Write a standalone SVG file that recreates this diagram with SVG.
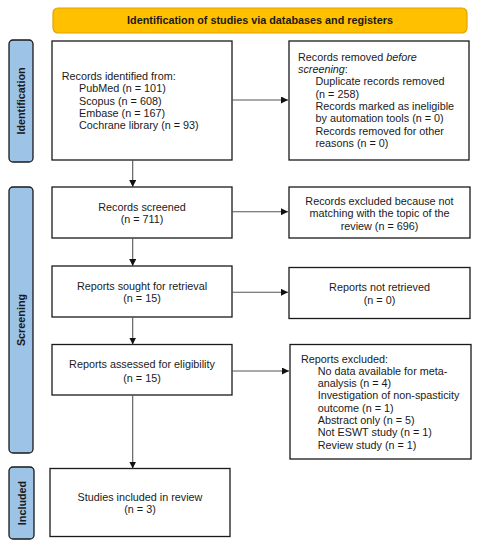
<svg xmlns="http://www.w3.org/2000/svg" width="484" height="550" viewBox="0 0 484 550">
<defs>
<style>
.t{font-family:"Liberation Sans",Arial,sans-serif;font-size:10.8px;fill:#1a1a1a}
.c{text-anchor:middle}
.b{font-weight:bold}
.box{fill:#fff;stroke:#1a1a1a;stroke-width:1.3}
.side{fill:#9DC3E6;stroke:#1a1a1a;stroke-width:1.3}
.ban{fill:#FFC000;stroke:#E0A400;stroke-width:1.2}
.ln{stroke:#555;stroke-width:1.1;fill:none;marker-end:url(#ah)}
</style>
<marker id="ah" viewBox="0 0 10 10" refX="10" refY="5" markerWidth="7" markerHeight="7" markerUnits="userSpaceOnUse" orient="auto">
<path d="M0,0 L10,5 L0,10 z" fill="#111"/>
</marker>
</defs>
<rect width="484" height="550" fill="#fff"/>
<g id="banner">
<rect class="ban" x="53" y="8" width="414" height="25" rx="5"/>
<text class="t c b" x="260" y="24.3">Identification of studies via databases and registers</text>
</g>
<g id="side-identification">
<rect class="side" x="9" y="40" width="24" height="122" rx="4"/>
<text class="t c b" transform="translate(25,101) rotate(-90)">Identification</text>
</g>
<g id="side-screening">
<rect class="side" x="9" y="187" width="24" height="266" rx="4"/>
<text class="t c b" transform="translate(25,320) rotate(-90)">Screening</text>
</g>
<g id="side-included">
<rect class="side" x="9" y="467" width="25" height="72" rx="4"/>
<text class="t c b" transform="translate(25.5,503) rotate(-90)">Included</text>
</g>
<g id="identified">
<rect class="box" x="52" y="41" width="180" height="119"/>
<text class="t" x="61.7" y="79.8">Records identified from:</text>
<text class="t" x="79" y="92.1">PubMed (n = 101)</text>
<text class="t" x="79" y="104.5">Scopus (n = 608)</text>
<text class="t" x="79" y="116.8">Embase (n = 167)</text>
<text class="t" x="79" y="129.1">Cochrane library (n = 93)</text>
</g>
<g id="removed">
<rect class="box" x="289" y="41" width="180" height="119"/>
<text class="t" x="298" y="60.5">Records removed <tspan font-style="italic">before</tspan></text>
<text class="t" x="298" y="72.8"><tspan font-style="italic">screening</tspan>:</text>
<text class="t" x="315.5" y="85.1">Duplicate records removed</text>
<text class="t" x="315.5" y="97.5">(n = 258)</text>
<text class="t" x="315.5" y="109.8">Records marked as ineligible</text>
<text class="t" x="315.5" y="122.1">by automation tools (n = 0)</text>
<text class="t" x="315.5" y="134.5">Records removed for other</text>
<text class="t" x="315.5" y="146.8">reasons (n = 0)</text>
</g>
<g id="screened">
<rect class="box" x="52" y="187" width="180" height="51"/>
<text class="t c" x="142" y="210.5">Records screened</text>
<text class="t c" x="142" y="223.1">(n = 711)</text>
</g>
<g id="excluded">
<rect class="box" x="289" y="187" width="181" height="51"/>
<text class="t c" x="379.5" y="204.5">Records excluded because not</text>
<text class="t c" x="379.5" y="216.8">matching with the topic of the</text>
<text class="t c" x="379.5" y="229.5">review (n = 696)</text>
</g>
<g id="sought">
<rect class="box" x="52" y="266" width="180" height="51"/>
<text class="t c" x="142" y="289.5">Reports sought for retrieval</text>
<text class="t c" x="142" y="302.1">(n = 15)</text>
</g>
<g id="notretrieved">
<rect class="box" x="289" y="267.5" width="181" height="51"/>
<text class="t c" x="379.5" y="290.5">Reports not retrieved</text>
<text class="t c" x="379.5" y="303.5">(n = 0)</text>
</g>
<g id="assessed">
<rect class="box" x="52" y="344.5" width="180" height="50.5"/>
<text class="t c" x="142" y="367.8">Reports assessed for eligibility</text>
<text class="t c" x="142" y="382.1">(n = 15)</text>
</g>
<g id="reportsexcluded">
<rect class="box" x="290" y="344.5" width="181" height="114.5"/>
<text class="t" x="301" y="362.8">Reports excluded:</text>
<text class="t" x="317.7" y="374.8">No data available for meta-</text>
<text class="t" x="317.7" y="387.1">analysis (n = 4)</text>
<text class="t" x="317.7" y="399.4">Investigation of non-spasticity</text>
<text class="t" x="317.7" y="411.7">outcome (n = 1)</text>
<text class="t" x="317.7" y="424">Abstract only (n = 5)</text>
<text class="t" x="317.7" y="436.3">Not ESWT study (n = 1)</text>
<text class="t" x="317.7" y="448.6">Review study (n = 1)</text>
</g>
<g id="included">
<rect class="box" x="50" y="468.5" width="180" height="68"/>
<text class="t c" x="140" y="501.1">Studies included in review</text>
<text class="t c" x="140" y="513.1">(n = 3)</text>
</g>
<g id="connectors">
<line class="ln" x1="232" y1="100" x2="288" y2="100"/>
<line class="ln" x1="132.7" y1="160" x2="132.7" y2="187"/>
<line class="ln" x1="232" y1="211.7" x2="288" y2="211.7"/>
<line class="ln" x1="132.7" y1="238" x2="132.7" y2="266"/>
<line class="ln" x1="232" y1="292.3" x2="288" y2="292.3"/>
<line class="ln" x1="132.7" y1="317" x2="132.7" y2="344.5"/>
<line class="ln" x1="232" y1="371" x2="289" y2="371"/>
<line class="ln" x1="132.7" y1="395" x2="132.7" y2="468.5"/>
</g>
</svg>
